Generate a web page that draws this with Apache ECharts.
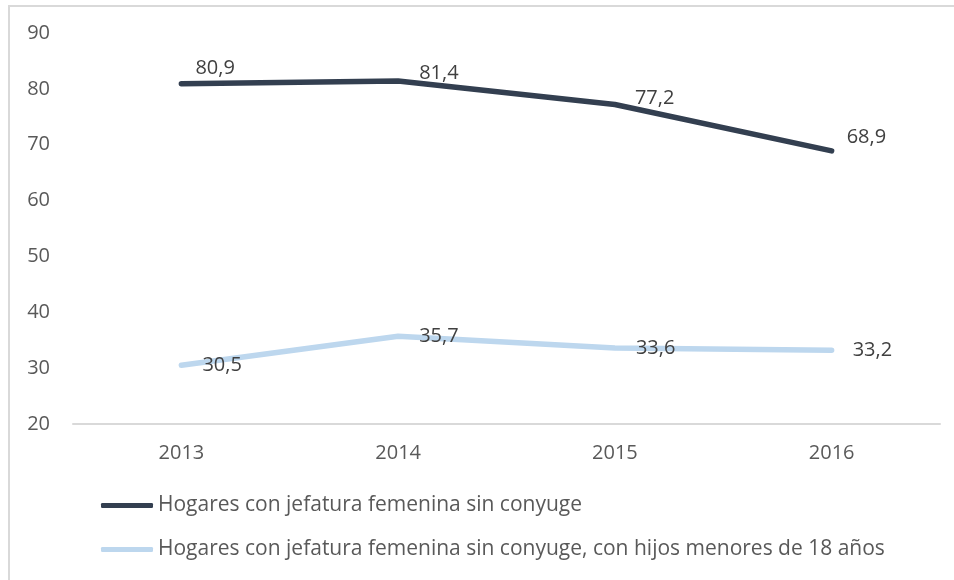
<!DOCTYPE html>
<html>
<head>
<meta charset="utf-8">
<script src="https://cdn.jsdelivr.net/npm/echarts@6/dist/echarts.min.js"></script>
<style>
  html, body { margin: 0; padding: 0; background: #fff; overflow: hidden; }
  #wrap { position: relative; width: 954px; height: 580px; }
  #frame { position: absolute; left: 8px; top: 5px; width: 960px; height: 600px; border: 2px solid #d9d9d9; box-sizing: border-box; }
  #chart { position: absolute; left: 0; top: 0; width: 954px; height: 580px; }
</style>
</head>
<body>
<div id="wrap">
  <div id="frame"></div>
  <div id="chart"></div>
</div>
<script>
const years = ['2013', '2014', '2015', '2016'];
const sinConyuge = [80.9, 81.4, 77.2, 68.9];
const conHijos = [30.5, 35.7, 33.6, 33.2];
const seriesNames = [
  'Hogares con jefatura femenina sin conyuge',
  'Hogares con jefatura femenina sin conyuge, con hijos menores de 18 años'
];
// label nudges (px) to mimic Excel's label placement
const darkLabelShift = [[0, -16], [7, -8], [6, -6], [1, -14]];

const font = '"Open Sans", sans-serif';
const fmt = p => String(p.value).replace('.', ',');

const chart = echarts.init(document.getElementById('chart'));

const option = {
  animation: false,
  textStyle: { fontFamily: font },
  grid: { left: 73, right: 14, top: 33, bottom: 156 },
  legend: {
    orient: 'vertical',
    left: 101,
    top: 495,
    padding: 0,
    icon: 'roundRect',
    itemWidth: 52,
    itemHeight: 5,
    itemGap: 23,
    textStyle: { fontFamily: font, fontSize: 21, color: '#595959' },
    data: seriesNames
  },
  xAxis: {
    type: 'category',
    data: years,
    boundaryGap: true,
    axisLine: { lineStyle: { color: '#d9d9d9', width: 2 } },
    axisTick: { show: false },
    axisLabel: { fontFamily: font, fontSize: 20, color: '#595959', margin: 19 }
  },
  yAxis: {
    type: 'value',
    min: 20,
    max: 90,
    interval: 10,
    axisLine: { show: false },
    axisTick: { show: false },
    splitLine: { show: false },
    axisLabel: { fontFamily: font, fontSize: 20, color: '#595959', margin: 23 }
  },
  series: [
    {
      name: seriesNames[0],
      type: 'line',
      symbol: 'circle',
      symbolSize: 0.1,
      color: '#333F50',
      lineStyle: { width: 5.5, cap: 'round', join: 'round' },
      data: sinConyuge.map((v, i) => ({
        value: v,
        label: { offset: darkLabelShift[i] }
      })),
      label: {
        show: true,
        position: 'right',
        distance: 14,
        fontFamily: font,
        fontSize: 20,
        color: '#404040',
        formatter: fmt
      }
    },
    {
      name: seriesNames[1],
      type: 'line',
      symbol: 'circle',
      symbolSize: 0.1,
      color: '#BDD7EE',
      lineStyle: { width: 5.5, cap: 'round', join: 'round' },
      data: conHijos,
      label: {
        show: true,
        position: 'right',
        distance: 21,
        fontFamily: font,
        fontSize: 20,
        color: '#404040',
        formatter: fmt
      }
    }
  ]
};

chart.setOption(option);
</script>
</body>
</html>
